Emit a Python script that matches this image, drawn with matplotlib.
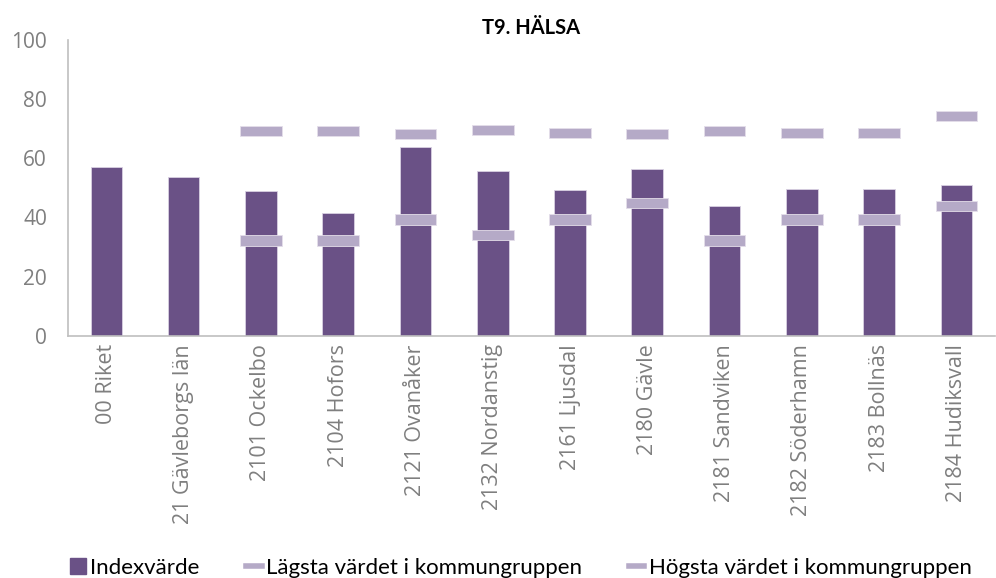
import matplotlib.pyplot as plt
import numpy as np
from matplotlib.lines import Line2D
from matplotlib.patches import Patch

plt.rcParams['font.family'] = ['Lato', 'DejaVu Sans']

# --- data ---
categories = ['00 Riket', '21 Gävleborgs län', '2101 Ockelbo', '2104 Hofors',
              '2121 Ovanåker', '2132 Nordanstig', '2161 Ljusdal', '2180 Gävle',
              '2181 Sandviken', '2182 Söderhamn', '2183 Bollnäs', '2184 Hudiksvall']
index_values = [57.2, 53.6, 49.0, 41.4, 63.9, 55.8, 49.3, 56.4, 44.0, 49.7, 49.7, 51.1]
lowest = [np.nan, np.nan, 32.2, 32.2, 39.3, 34.2, 39.3, 44.9, 32.2, 39.3, 39.3, 43.9]
highest = [np.nan, np.nan, 69.2, 69.2, 68.3, 69.7, 68.5, 68.3, 69.2, 68.5, 68.5, 74.2]

bar_color = '#6A5186'
marker_color = '#B5AAC7'
text_color = '#7F7F7F'

fig = plt.figure(figsize=(9.96, 5.78), dpi=100)
ax = fig.add_axes([0.068, 0.419, 0.931, 0.512])

x = np.arange(len(categories))
ax.bar(x, index_values, width=0.41, color=bar_color, edgecolor='#D8D0E2', linewidth=0.6, zorder=2)

# markers drawn as short thick bars centred on the value
mk_h = 3.4
low = np.array(lowest)
high = np.array(highest)
ax.bar(x, mk_h, bottom=low - mk_h / 2, width=0.54, color=marker_color,
       edgecolor='#E4DEEA', linewidth=0.6, zorder=3)
ax.bar(x, mk_h, bottom=high - mk_h / 2, width=0.54, color=marker_color,
       edgecolor='#E4DEEA', linewidth=0.6, zorder=3)

ax.set_xlim(-0.5, len(categories) - 0.5)
ax.set_ylim(0, 100)
ax.set_yticks(range(0, 101, 20))
ax.set_xticks(x)
ax.set_xticklabels(categories, rotation=90, fontsize=15.5, color=text_color,
                   family=['Open Sans', 'DejaVu Sans'])
ax.set_yticklabels([str(v) for v in range(0, 101, 20)], fontsize=15, color=text_color,
                   family=['Open Sans', 'DejaVu Sans'])
ax.tick_params(axis='y', length=0, pad=15)
ax.tick_params(axis='x', length=0, pad=6)

for s in ['top', 'right']:
    ax.spines[s].set_visible(False)
for s in ['left', 'bottom']:
    ax.spines[s].set_color('#BFBFBF')
    ax.spines[s].set_linewidth(1.2)

fig.text(0.533, 0.952, 'T9. HÄLSA', ha='center', va='center', fontsize=14.5,
         fontweight='bold', color='black')

handles = [
    Patch(facecolor=bar_color, edgecolor=bar_color),
    Line2D([0], [0], color=marker_color, linewidth=4),
    Line2D([0], [0], color=marker_color, linewidth=4),
]
labels = ['Indexvärde', 'Lägsta värdet i kommungruppen', 'Högsta värdet i kommungruppen']
fig.legend(handles, labels, loc='center', bbox_to_anchor=(0.523, 0.018), ncol=3,
           frameon=False, fontsize=16, handlelength=0.7, handletextpad=0.2,
           columnspacing=2.1, labelcolor='black')

fig.savefig('out.png', dpi=100)
